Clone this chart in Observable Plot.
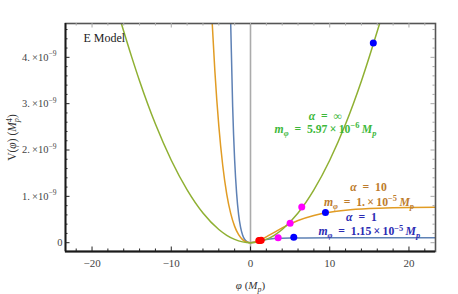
<!DOCTYPE html>
<html><head><meta charset="utf-8">
<script src="https://cdn.jsdelivr.net/npm/d3@7"></script>
<script src="https://cdn.jsdelivr.net/npm/@observablehq/plot@0.6"></script>
<style>
html,body{margin:0;padding:0;background:#fff;}
#chart svg, #chart svg text, #chart svg g {font-family:"Liberation Serif","DejaVu Serif",serif !important;}
#chart svg{background:#fff;}
</style></head><body><div id="chart"></div>
<script>
// ---- data (V in units of 1e-9 Mp^4, phi in Mp) ----
const phiInf = [-16.3,-15,-14,-12,-10,-8,-6,-4,-3,-2,-1,0,1,2,3,4,6,8,10,12,14,16.3];
const vInf   = [4.73,4.01,3.49,2.56,1.78,1.14,0.64,0.285,0.16,0.071,0.018,0,0.018,0.071,0.16,0.285,0.64,1.14,1.78,2.56,3.49,4.73];

const phiA10 = [-4.83,-4.5,-4,-3.5,-3,-2.5,-2,-1.5,-1,-0.5,0,1,2,3,4,5,6,8,10,12,15,18,23.35];
const vA10   = [4.73,3.71,2.52,1.66,1.05,0.634,0.352,0.172,0.067,0.015,0,0.04,0.125,0.224,0.319,0.405,0.478,0.587,0.658,0.702,0.738,0.755,0.766];

const phiA1 = [-2.5,-2.25,-2,-1.75,-1.5,-1.25,-1,-0.75,-0.5,-0.25,0,0.5,1,1.5,2,3,4,5,7,10,23.35];
const vA1   = [4.73,2.93,1.78,1.06,0.607,0.331,0.167,0.075,0.027,0.006,0,0.012,0.033,0.052,0.068,0.088,0.097,0.102,0.104,0.105,0.105];

const bluePhi = [15.5, 9.46, 5.46];
const blueV   = [4.31, 0.65, 0.12];
const magentaPhi = [6.47, 5.0, 3.49];
const magentaV   = [0.77, 0.42, 0.108];
const redPhi = [1.05, 1.2, 1.35];
const redV   = [0.045, 0.05, 0.055];

const labelPhi  = [9.43, 9.46, 14.9, 14.95, 14.0, 15.0];
const labelV    = [2.72, 2.45, 1.20, 0.875, 0.55, 0.245];
const labelText = ["*α*\u2002=\u2002∞", "*m*_{φ}\u2002=\u20025.97\u2009×\u200910^{−6}\u2009*M*_{p}",
                   "*α*\u2002=\u200210", "*m*_{φ}\u2002=\u20021.\u2009×\u200910^{−5}\u2009*M*_{p}",
                   "*α*\u2002=\u20021", "*m*_{φ}\u2002=\u20021.15\u2009×\u200910^{−5}\u2009*M*_{p}"];
const labelColor = ["#3db83a","#3db83a","#bd7c2c","#bd7c2c","#2b2bb3","#2b2bb3"];

const xMajor = [-20,-10,0,10,20];
const xMinor = [-22,-18,-16,-14,-12,-8,-6,-4,-2,2,4,6,8,12,14,16,18,22];
const yMajor = [0,1,2,3,4];
const yMinor = [0.2,0.4,0.6,0.8,1.2,1.4,1.6,1.8,2.2,2.4,2.6,2.8,3.2,3.4,3.6,3.8,4.2,4.4,4.6];

const xDomain = [-23.35, 23.35];
const yDomain = [-0.19, 4.73];

// ---- build tables ----
const rows = (xs, ys) => xs.map((x, i) => ({x, y: ys[i]}));
const green = rows(phiInf, vInf), orange = rows(phiA10, vA10), blue = rows(phiA1, vA1);
const labels = labelPhi.map((x, i) => ({x, y: labelV[i], t: labelText[i], c: labelColor[i]}));

const W = 458, H = 294, mL = 65, mR = 23, mT = 23, mB = 43;
const fw = W - mL - mR, fh = H - mT - mB;

const plot = Plot.plot({
  width: W, height: H,
  marginLeft: mL, marginRight: mR, marginTop: mT, marginBottom: mB,
  style: {fontFamily: "Liberation Serif, DejaVu Serif, serif", background: "#fff"},
  x: {domain: xDomain, label: null},
  y: {domain: yDomain, label: null},
  marks: [
    Plot.ruleX([0], {stroke: "#ababab", strokeWidth: 1.6}),
    Plot.line(blue, {x: "x", y: "y", stroke: "#5E81B5", strokeWidth: 1.5, curve: "monotone-x", clip: true}),
    Plot.line(orange, {x: "x", y: "y", stroke: "#E19C24", strokeWidth: 1.5, curve: "monotone-x", clip: true}),
    Plot.line(green, {x: "x", y: "y", stroke: "#8FB032", strokeWidth: 1.5, curve: "monotone-x", clip: true}),
    Plot.dot(rows(magentaPhi, magentaV), {x: "x", y: "y", r: 3.5, fill: "#ff00ff"}),
    Plot.dot(rows(bluePhi, blueV), {x: "x", y: "y", r: 3.5, fill: "#0000ff"}),
    Plot.dot(rows(redPhi, redV), {x: "x", y: "y", r: 3.5, fill: "#ff0000"}),
    Plot.text(labels, {x: "x", y: "y", text: "t", fill: "c", fontSize: 11.7, fontWeight: "bold", textAnchor: "middle"}),
    Plot.text(["E Model"], {frameAnchor: "top-left", dx: 18, dy: 15, fontSize: 12, fill: "#222", textAnchor: "start", lineAnchor: "middle"}),
    // frame
    Plot.frame({stroke: "#555", strokeWidth: 1.6}),
    Plot.ruleX([xDomain[0]], {stroke: "#1a1a1a", strokeWidth: 1.8}),
    Plot.ruleY([yDomain[0]], {stroke: "#1a1a1a", strokeWidth: 1.8}),
    // inward ticks
    Plot.tickY(yMajor, {y: d => d, stroke: "#222", insetRight: fw - 4.5}),
    Plot.tickY(yMinor, {y: d => d, stroke: "#222", insetRight: fw - 2.5}),
    Plot.tickY(yMajor, {y: d => d, stroke: "#aaa", insetLeft: fw - 4.5}),
    Plot.tickY(yMinor, {y: d => d, stroke: "#aaa", insetLeft: fw - 2.5}),
    Plot.tickX(xMajor, {x: d => d, stroke: "#222", insetTop: fh - 4.5}),
    Plot.tickX(xMinor, {x: d => d, stroke: "#222", insetTop: fh - 2.5}),
    Plot.tickX(xMajor, {x: d => d, stroke: "#aaa", insetBottom: fh - 4.5}),
    Plot.tickX(xMinor, {x: d => d, stroke: "#aaa", insetBottom: fh - 2.5}),
    // axes (labels only)
    Plot.axisX(xMajor, {tickSize: 0, tickPadding: 8, fontSize: 11, color: "#444", tickFormat: d3.format("d"), label: null}),
    Plot.axisY(yMajor, {tickSize: 0, tickPadding: 9, fontSize: 10.5, color: "#444", label: null,
      tickFormat: d => d === 0 ? "0" : d + ".\u2009×10^{−9}"}),
    // axis titles
    Plot.text(["V(*φ*) (*M*_{p}^{4})"], {frameAnchor: "left", dx: -53, rotate: -90, fontSize: 11.5, fill: "#333", textAnchor: "middle", lineAnchor: "middle"}),
    Plot.text(["*φ* (*M*_{p})"], {frameAnchor: "bottom", dy: 34, fontSize: 11, fill: "#333", textAnchor: "middle", lineAnchor: "middle"})
  ]
});
document.getElementById("chart").appendChild(plot);

// ---- rich text (sub/superscripts, italics) ----
const NS = "http://www.w3.org/2000/svg";
function rich(el, src) {
  el.textContent = "";
  const parts = src.match(/(_\{[^}]*\}|\^\{[^}]*\}|\*[^*]*\*|[^_^*]+)/g) || [];
  let shift = 0, lastSub = null;
  for (const p of parts) {
    const t = document.createElementNS(NS, "tspan");
    let txt = p, dy = 0, small = false, italic = false;
    if (p.startsWith("_{")) { txt = p.slice(2, -1); dy = 3; small = true; }
    else if (p.startsWith("^{")) { txt = p.slice(2, -1); dy = -4.5; small = true; }
    else if (p.startsWith("*")) { txt = p.slice(1, -1); italic = true; }
    if (small && /[a-zA-Zα-ωφ]/.test(txt)) italic = true;
    t.textContent = txt;
    if (dy - shift !== 0) t.setAttribute("dy", dy - shift);
    shift = dy;
    if (small) t.setAttribute("font-size", "72%");
    if (italic) t.setAttribute("font-style", "italic");
    if (p.startsWith("^{") && lastSub) t.setAttribute("dx", -lastSub.getComputedTextLength());
    el.appendChild(t);
    lastSub = p.startsWith("_{") ? t : null;
  }
}
plot.querySelectorAll("text").forEach(el => {
  const s = el.textContent;
  if (/[_^*]/.test(s)) rich(el, s);
});
plot.querySelectorAll('g[aria-label="y-axis tick label"] text').forEach(el => {
  if (el.textContent === "0") el.setAttribute("dx", 6);
});
</script></body></html>
